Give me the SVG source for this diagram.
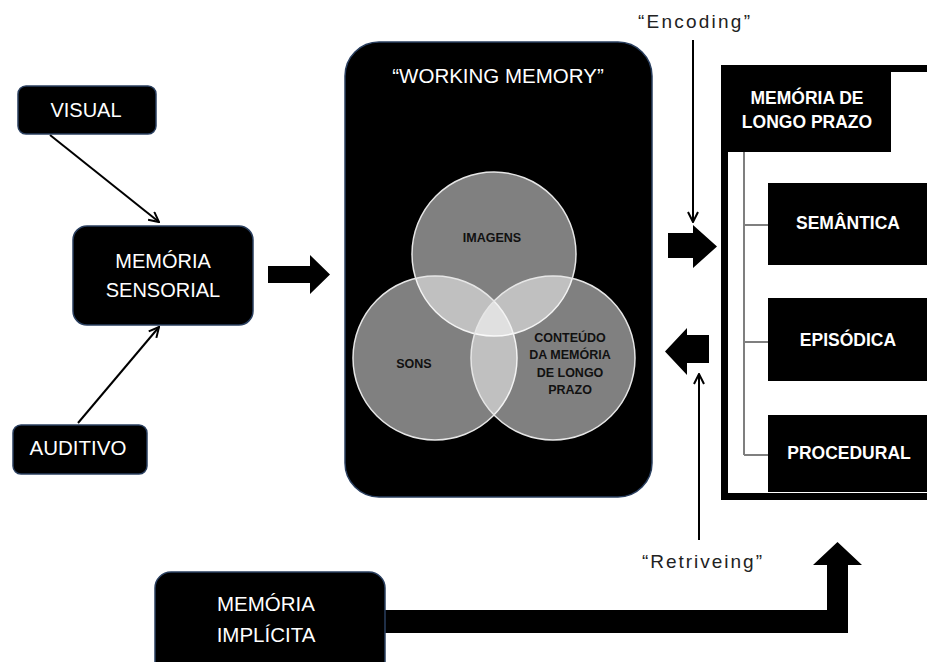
<svg xmlns="http://www.w3.org/2000/svg" width="927" height="662" viewBox="0 0 927 662">
<defs>
<style>
.box{fill:#000;stroke:#2a3f5f;stroke-width:1.5}
.sq{fill:#000}
.wt{fill:#fff;font-family:"Liberation Sans",Arial,sans-serif;text-anchor:middle}
.bt{fill:#fff;font-family:"Liberation Sans",Arial,sans-serif;font-weight:bold;text-anchor:middle;font-size:17.5px}
.vt{fill:#111;font-family:"Liberation Sans",Arial,sans-serif;font-weight:bold;text-anchor:middle;font-size:12.5px}
.lab{fill:#222;font-family:"Liberation Sans",Arial,sans-serif;text-anchor:middle;font-size:19px}
.thin{stroke:#000;stroke-width:2;fill:none;marker-end:url(#open)}
.blk{fill:#000}
.circ{fill:#fff;fill-opacity:0.5;stroke:#e6e6e6;stroke-width:1.5}
.tree{stroke:#7f7f7f;stroke-width:2;fill:none}
</style>
<marker id="open" viewBox="0 0 12 12" refX="11" refY="6" markerWidth="12" markerHeight="12" markerUnits="userSpaceOnUse" orient="auto">
<path d="M1,1 L11,6 L1,11" fill="none" stroke="#000" stroke-width="2"/>
</marker>
</defs>
<rect width="927" height="662" fill="#fff"/>

<g id="connectors">
<line class="thin" x1="50" y1="135" x2="159" y2="222"/>
<line class="thin" x1="78" y1="423" x2="159" y2="327"/>
<line class="thin" x1="693" y1="40" x2="693" y2="222"/>
<line class="thin" x1="699" y1="540" x2="699" y2="374"/>
<polygon class="blk" points="268,266 310,266 310,255 330,274.5 310,294 310,283 268,283"/>
<polygon class="blk" points="668,233 693,233 693,225 717,246.5 693,268 693,258 668,258"/>
<polygon class="blk" points="709,335 687,335 687,328 665,351.5 687,375 687,363 709,363"/>
<polygon class="blk" points="384,610 827,610 827,565 813,565 837.5,542 862,565 848,565 848,633 384,633"/>
</g>

<g id="visual">
<rect class="box" x="18" y="86" width="138" height="48" rx="8"/>
<text class="wt" x="86" y="117" font-size="20">VISUAL</text>
</g>

<g id="sensorial">
<rect class="box" x="73" y="226" width="180" height="99" rx="14"/>
<text class="wt" x="163" y="268" font-size="20">MEMÓRIA</text>
<text class="wt" x="163" y="297" font-size="20">SENSORIAL</text>
</g>

<g id="auditivo">
<rect class="box" x="13" y="425" width="134" height="49" rx="8"/>
<text class="wt" x="78" y="455" font-size="20.5">AUDITIVO</text>
</g>

<g id="working-memory">
<rect class="box" x="345" y="42" width="307" height="455" rx="34"/>
<text class="wt" x="498" y="83" font-size="20.5">“WORKING MEMORY”</text>
<circle class="circ" cx="494" cy="254" r="82"/>
<circle class="circ" cx="435" cy="358" r="82"/>
<circle class="circ" cx="553" cy="358" r="82"/>
<text class="vt" x="492" y="241.5">IMAGENS</text>
<text class="vt" x="414" y="367.5">SONS</text>
<text class="vt" x="570" y="342">CONTEÚDO</text>
<text class="vt" x="570" y="359">DA MEMÓRIA</text>
<text class="vt" x="570" y="376.5">DE LONGO</text>
<text class="vt" x="570" y="394">PRAZO</text>
</g>

<g id="encoding-label">
<text class="lab" x="694" y="28" textLength="112" lengthAdjust="spacing">“Encoding”</text>
</g>

<g id="retrieving-label">
<text class="lab" x="702" y="568" textLength="120" lengthAdjust="spacing">“Retriveing”</text>
</g>

<g id="longo-prazo">
<rect x="724.5" y="68.5" width="260" height="428" fill="#fff" stroke="#000" stroke-width="7"/>
<rect class="sq" x="721" y="65" width="170" height="87"/>
<text class="bt" x="807" y="104">MEMÓRIA DE</text>
<text class="bt" x="807" y="128">LONGO PRAZO</text>
<path class="tree" d="M744,152 V455 M744,225 H768 M744,342 H768 M744,455 H768"/>
</g>

<g id="semantica">
<rect class="sq" x="768" y="183" width="170" height="82"/>
<text class="bt" x="848" y="229">SEMÂNTICA</text>
</g>

<g id="episodica">
<rect class="sq" x="768" y="298" width="170" height="83"/>
<text class="bt" x="848" y="346">EPISÓDICA</text>
</g>

<g id="procedural">
<rect class="sq" x="768" y="415" width="170" height="77"/>
<text class="bt" x="849" y="459">PROCEDURAL</text>
</g>

<g id="implicita">
<rect class="box" x="155" y="572" width="230" height="110" rx="16"/>
<text class="wt" x="266" y="611" font-size="20.5">MEMÓRIA</text>
<text class="wt" x="266" y="642" font-size="20.5">IMPLÍCITA</text>
</g>
</svg>
